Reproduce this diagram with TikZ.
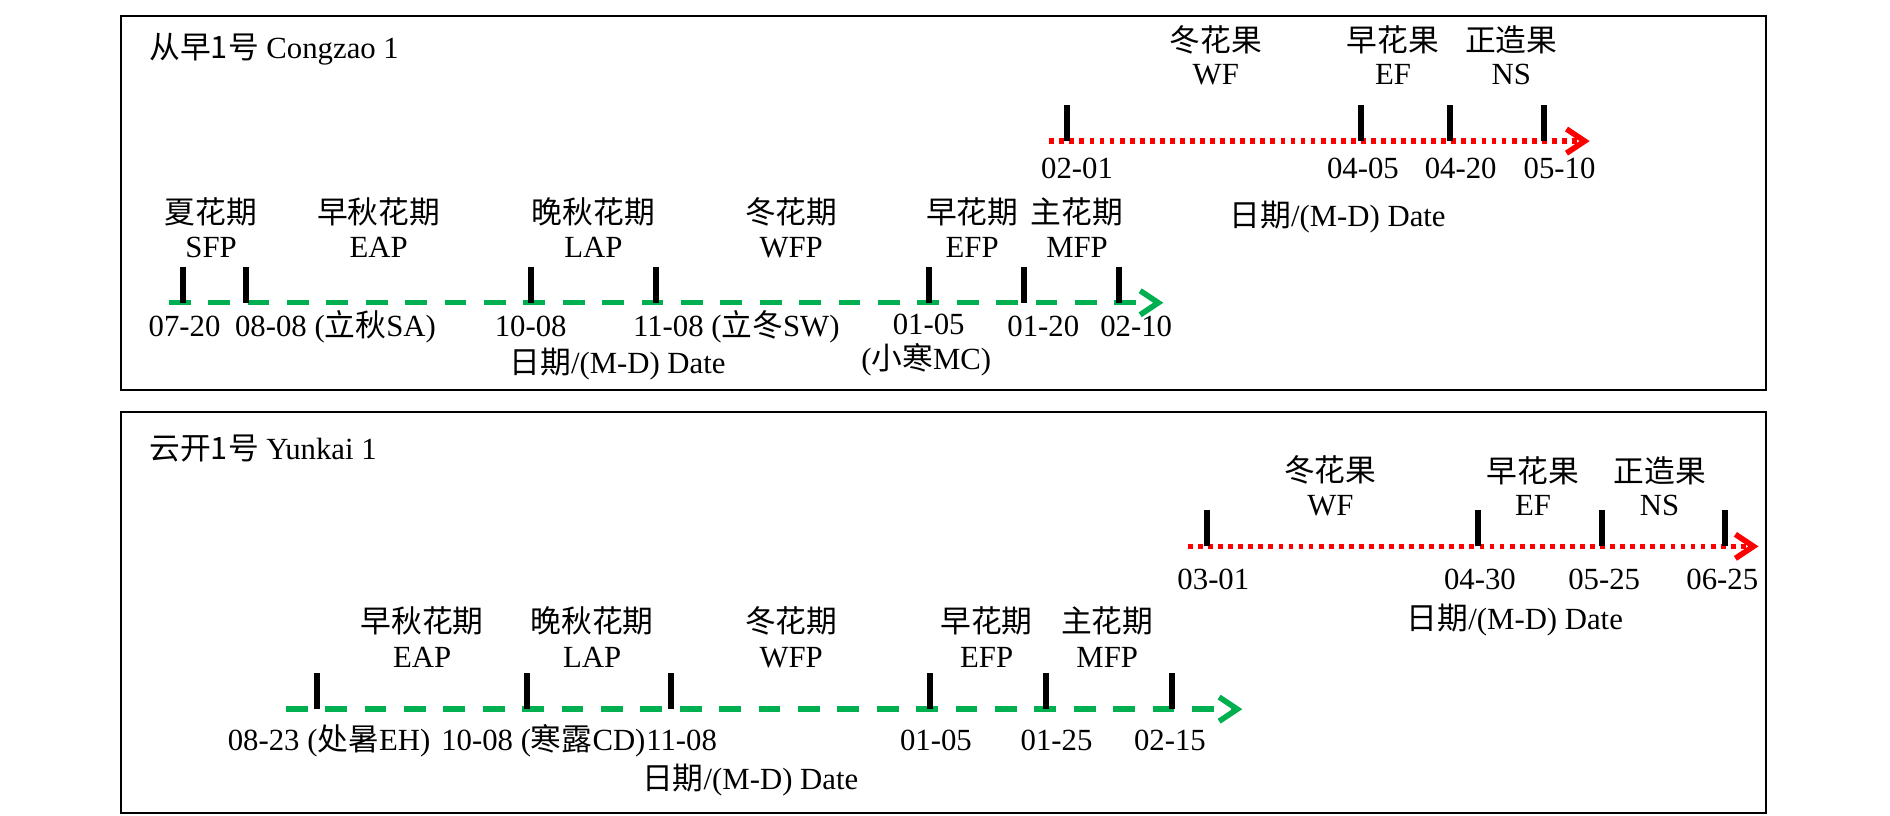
\documentclass[tikz,border=0pt]{standalone}
\usepackage{fontspec}
\setmainfont{Liberation Serif}
\newfontfamily\cjk{Noto Sans CJK SC}
\usetikzlibrary{arrows.meta}
\definecolor{Miverde}{RGB}{0,176,80}
\definecolor{Mirojo}{RGB}{255,0,0}

\tikzset{
 marco/.style={line width=1pt},
 lineaverde/.style={draw=Miverde,line width=2.7pt,dash pattern=on 10.8pt off 8.8pt,
   -{Straight Barb[length=9pt,width=12pt,line width=2.8pt]}},
 linearoja/.style={draw=Mirojo,line width=2.8pt,dash pattern=on 2.4pt off 2.6pt,
   -{Straight Barb[length=9pt,width=12pt,line width=2.8pt]}},
 marca/.style={line width=3pt},
}

\begin{document}
\begin{tikzpicture}[x=6pt,y=-6pt,font=\fontsize{15.3}{17}\selectfont]
\useasboundingbox (0,0) rectangle (156.7,67.6);
% marcos
\draw[marco] (10.03,1.33) rectangle (146.43,32.34);
\draw[marco] (10.03,34.2) rectangle (146.43,67.4);

% ---- Congzao 1 ----
\node[anchor=west] (t1) at (11.8,4.1) {{\cjk 从早1号} Congzao 1};
\coordinate (g1a) at (14,25.1);
\coordinate (g1b) at (96.45,25.1);
\draw[lineaverde] (g1a) -- (g1b);
\foreach \pos in {15.2,20.4,44,54.4,77,84.9,92.8}
\draw[marca] (\pos,25.1) -- (\pos,22.1);
\foreach \pos/\cn/\en in {17.5/夏花期/SFP,31.4/早秋花期/EAP,49.2/晚秋花期/LAP,65.6/冬花期/WFP,80.6/早花期/EFP,89.3/主花期/MFP}
{\node (a1-\en) at (\pos,17.6) {\cjk \cn};
 \node (b1-\en) at (\pos,20.5) {\en};}
\node (d1a) at (15.3,27.1) {07-20};
\node[anchor=west] (d1b) at (18.9,27.1) {08-08 ({\cjk 立秋}SA)};
\node (d1c) at (44,27.1) {10-08};
\node[anchor=west] (d1d) at (51.9,27.1) {11-08 ({\cjk 立冬}SW)};
\node (d1e) at (77,26.9) {01-05};
\node (d1f) at (76.8,29.8) {({\cjk 小寒}MC)};
\node (d1g) at (86.5,27.1) {01-20};
\node (d1h) at (94.2,27.1) {02-10};
\node (x1a) at (51.2,30.2) {{\cjk 日期}/(M-D) Date};

\coordinate (r1a) at (87,11.7);
\coordinate (r1b) at (131.8,11.7);
\draw[linearoja] (r1a) -- (r1b);
\foreach \pos in {88.5,112.8,120.2,128}
\draw[marca] (\pos,11.7) -- (\pos,8.7);
\foreach \pos/\cn/\en in {100.8/冬花果/WF,115.5/早花果/EF,125.3/正造果/NS}
{\node (f1-\en) at (\pos,3.3) {\cjk \cn};
 \node (e1-\en) at (\pos,6.2) {\en};}
\foreach \pos/\d in {89.3/02-01,113/04-05,121.1/04-20,129.3/05-10}
\node (s1-\d) at (\pos,14) {\d};
\node (x1b) at (110.9,18) {{\cjk 日期}/(M-D) Date};

% ---- Yunkai 1 ----
\node[anchor=west] (t2) at (11.8,37.2) {{\cjk 云开1号} Yunkai 1};
\coordinate (g2a) at (23.7,58.8);
\coordinate (g2b) at (103,58.8);
\draw[lineaverde] (g2a) -- (g2b);
\foreach \pos in {26.3,43.7,55.6,77.1,86.7,97.2}
\draw[marca] (\pos,58.8) -- (\pos,55.8);
\foreach \pos/\cn/\en in {35/早秋花期/EAP,49.1/晚秋花期/LAP,65.6/冬花期/WFP,81.8/早花期/EFP,91.8/主花期/MFP}
{\node (a2-\en) at (\pos,51.5) {\cjk \cn};
 \node (b2-\en) at (\pos,54.5) {\en};}
\node[anchor=west] (d2a) at (18.3,61.4) {08-23 ({\cjk 处暑}EH)};
\node[anchor=west] (d2b) at (36,61.4) {10-08 ({\cjk 寒露}CD)};
\node[anchor=west] (d2c) at (53,61.4) {11-08};
\node (d2d) at (77.6,61.4) {01-05};
\node (d2e) at (87.6,61.4) {01-25};
\node (d2f) at (97,61.4) {02-15};
\node (x2a) at (62.2,64.7) {{\cjk 日期}/(M-D) Date};

\coordinate (r2a) at (98.5,45.3);
\coordinate (r2b) at (145.8,45.3);
\draw[linearoja] (r2a) -- (r2b);
\foreach \pos in {100.1,122.5,132.8,143}
\draw[marca] (\pos,45.3) -- (\pos,42.3);
\foreach \pos/\cn/\en in {110.3/冬花果/WF,127.1/早花果/EF,137.6/正造果/NS}
{\node (f2-\en) at (\pos,39) {\cjk \cn};
 \node (e2-\en) at (\pos,41.9) {\en};}
\foreach \pos/\d in {100.6/03-01,122.7/04-30,133/05-25,142.8/06-25}
\node (s2-\d) at (\pos,48) {\d};
\node (x2b) at (125.6,51.4) {{\cjk 日期}/(M-D) Date};
\end{tikzpicture}
\end{document}
